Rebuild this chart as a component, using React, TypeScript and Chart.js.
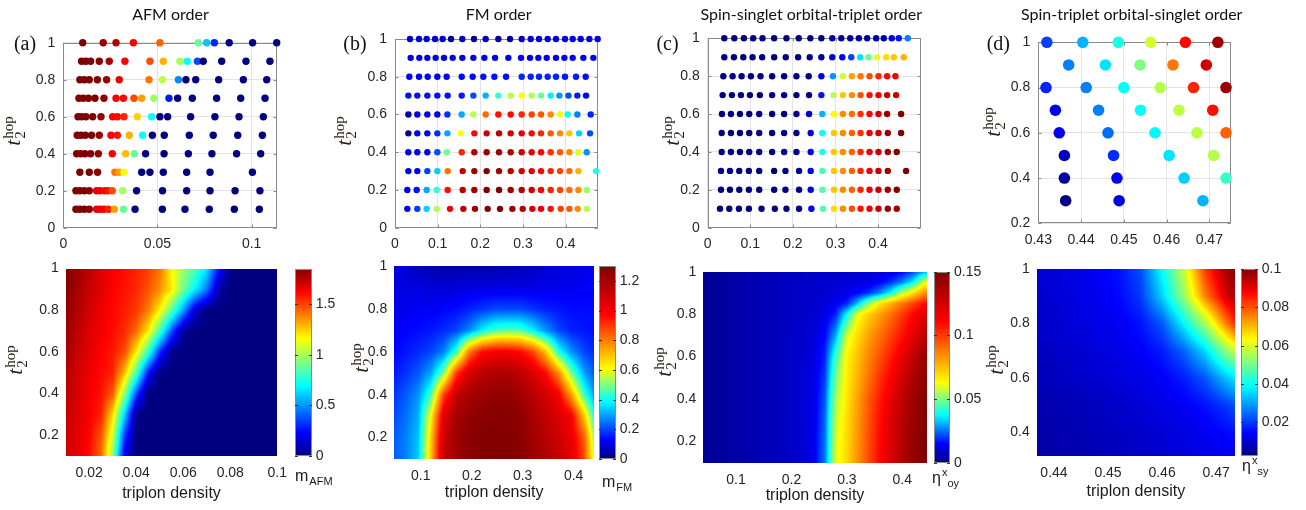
import React, { useEffect, useRef } from 'react';
import { Chart, registerables } from 'chart.js';
Chart.register(...registerables);

const W = 1306;
const H = 510;
const SANS = '"Liberation Sans", Arial, Helvetica, sans-serif';
const SERIF = '"Liberation Serif", "Times New Roman", serif';
const TITLE_FONT = 'Lato, "Open Sans", sans-serif';
const TICK_COLOR = '#262626';
const FRAME_COLOR = '#8a8a8a';
const GRID_COLOR = '#e4e4e4';
const TLABEL_COLOR = '#2a2016';

// ================= DATA =================
// ---- top row: scatter points, colour value normalised to [0,1] ----
const A_T2 = [1.0, 0.9, 0.8, 0.7, 0.6, 0.5, 0.4, 0.3, 0.2, 0.1];
const A_X = [
  [0.0103, 0.0212, 0.028, 0.0372, 0.0513, 0.0717, 0.0761, 0.0802, 0.0881, 0.1005, 0.1133],
  [0.0097, 0.012, 0.0145, 0.0191, 0.0244, 0.0327, 0.046, 0.0531, 0.0619, 0.0658, 0.0712, 0.0743, 0.0841, 0.097, 0.1097],
  [0.0088, 0.0112, 0.0138, 0.0181, 0.023, 0.0297, 0.0455, 0.0526, 0.0611, 0.0651, 0.0703, 0.0825, 0.0956, 0.108],
  [0.0083, 0.0106, 0.0133, 0.0168, 0.0216, 0.028, 0.0319, 0.0375, 0.0416, 0.0481, 0.0561, 0.0607, 0.0685, 0.0814, 0.0942, 0.1071],
  [0.0078, 0.0097, 0.012, 0.0156, 0.02, 0.0262, 0.0287, 0.0322, 0.0393, 0.0469, 0.0513, 0.0554, 0.0676, 0.0805, 0.0933, 0.1062],
  [0.0074, 0.0094, 0.0117, 0.015, 0.0191, 0.0253, 0.0287, 0.035, 0.0421, 0.0473, 0.0536, 0.0669, 0.0796, 0.0926, 0.1057],
  [0.0071, 0.0092, 0.0115, 0.0145, 0.0186, 0.026, 0.0331, 0.0377, 0.0437, 0.0535, 0.0664, 0.0789, 0.092, 0.1048],
  [0.0088, 0.0138, 0.0182, 0.0274, 0.0296, 0.0322, 0.0416, 0.046, 0.0531, 0.0655, 0.0779, 0.1004],
  [0.0067, 0.0088, 0.0112, 0.0138, 0.0177, 0.0195, 0.0221, 0.0239, 0.026, 0.0315, 0.0389, 0.0527, 0.0655, 0.0779, 0.0912, 0.1044],
  [0.0067, 0.0088, 0.0112, 0.0138, 0.0177, 0.0195, 0.0216, 0.0239, 0.0271, 0.0319, 0.0381, 0.0526, 0.0646, 0.0775, 0.0908, 0.1041],
];
const A_V = [
  [1, 0.98, 0.95, 0.88, 0.78, 0.47, 0.32, 0.16, 0, 0, 0],
  [1, 1, 1, 0.99, 0.96, 0.88, 0.8, 0.7, 0.54, 0.38, 0.2, 0, 0, 0, 0],
  [1, 1, 1, 0.99, 0.97, 0.9, 0.76, 0.56, 0.26, 0, 0, 0, 0, 0],
  [1, 1, 1, 1, 0.98, 0.88, 0.87, 0.8, 0.72, 0.53, 0.15, 0, 0, 0, 0, 0],
  [1, 1, 1, 1, 0.98, 0.88, 0.87, 0.84, 0.67, 0.38, 0, 0, 0, 0, 0, 0],
  [1, 1, 1, 1, 0.98, 0.88, 0.86, 0.7, 0.38, 0, 0, 0, 0, 0, 0],
  [1, 1, 1, 1, 0.98, 0.88, 0.69, 0.47, 0, 0, 0, 0, 0, 0],
  [1, 1, 0.99, 0.76, 0.72, 0.61, 0, 0, 0, 0, 0, 0],
  [1, 1, 1, 0.99, 0.9, 0.89, 0.88, 0.86, 0.8, 0.54, 0, 0, 0, 0, 0, 0],
  [1, 1, 1, 0.99, 0.9, 0.89, 0.88, 0.85, 0.72, 0.47, 0, 0, 0, 0, 0, 0],
];

const B_T2 = [1.0, 0.9, 0.8, 0.7, 0.6, 0.5, 0.4, 0.3, 0.2, 0.1];
const B_X = [
  [0.0352, 0.0563, 0.0742, 0.0938, 0.1117, 0.1313, 0.1578, 0.1852, 0.2125, 0.2422, 0.2695, 0.2969, 0.318, 0.3375, 0.3578, 0.3773, 0.3984, 0.4164, 0.4352, 0.4555, 0.475],
  [0.0367, 0.057, 0.0758, 0.0953, 0.1148, 0.1352, 0.1578, 0.1836, 0.2094, 0.2344, 0.2656, 0.2953, 0.3164, 0.3359, 0.3555, 0.3773, 0.3969, 0.4164, 0.4414, 0.4648],
  [0.0336, 0.0563, 0.0766, 0.0992, 0.1211, 0.1563, 0.182, 0.207, 0.2328, 0.2602, 0.2969, 0.318, 0.3375, 0.3578, 0.3773, 0.3984, 0.4242, 0.4469],
  [0.0313, 0.0523, 0.0758, 0.0992, 0.1234, 0.1563, 0.1836, 0.2125, 0.2422, 0.2711, 0.2969, 0.3203, 0.3422, 0.3648, 0.3852, 0.4063, 0.4273, 0.4477],
  [0.0313, 0.0523, 0.0758, 0.0992, 0.1227, 0.1563, 0.1836, 0.2125, 0.2422, 0.2711, 0.2969, 0.3203, 0.3422, 0.3648, 0.3867, 0.4047, 0.4273, 0.4586],
  [0.0313, 0.0523, 0.0758, 0.0992, 0.1227, 0.1539, 0.1859, 0.2148, 0.2438, 0.2711, 0.2969, 0.3203, 0.3422, 0.3648, 0.3867, 0.4086, 0.4313, 0.457],
  [0.0313, 0.0523, 0.0758, 0.0992, 0.1211, 0.1563, 0.1859, 0.2148, 0.2438, 0.2711, 0.2969, 0.3203, 0.3422, 0.3648, 0.3867, 0.4086, 0.4297, 0.4492],
  [0.0313, 0.0523, 0.0758, 0.0992, 0.1234, 0.1586, 0.1859, 0.2148, 0.2438, 0.2711, 0.2969, 0.3203, 0.3422, 0.3648, 0.3867, 0.4086, 0.4297, 0.4711],
  [0.0289, 0.0508, 0.0742, 0.0977, 0.1234, 0.1586, 0.1859, 0.2148, 0.2438, 0.2711, 0.2969, 0.3203, 0.3422, 0.3648, 0.3867, 0.4086, 0.4297, 0.4492],
  [0.0289, 0.0523, 0.0742, 0.0977, 0.1289, 0.1602, 0.1875, 0.2172, 0.2461, 0.275, 0.2992, 0.3219, 0.3422, 0.3648, 0.3883, 0.4086, 0.4281, 0.4492],
];
const B_V = [
  [0.09, 0.09, 0.09, 0.09, 0.08, 0.03, 0.07, 0.03, 0.06, 0.03, 0.03, 0.08, 0.09, 0.09, 0.09, 0.1, 0.1, 0.1, 0.1, 0.1, 0.1],
  [0.1, 0.1, 0.1, 0.1, 0.1, 0.1, 0.1, 0.1, 0.1, 0.1, 0.11, 0.11, 0.11, 0.11, 0.11, 0.11, 0.11, 0.11, 0.11, 0.11],
  [0.12, 0.12, 0.12, 0.12, 0.13, 0.13, 0.13, 0.14, 0.14, 0.14, 0.16, 0.16, 0.16, 0.16, 0.16, 0.15, 0.15, 0.14],
  [0.14, 0.14, 0.14, 0.14, 0.14, 0.15, 0.2, 0.3, 0.43, 0.55, 0.62, 0.55, 0.47, 0.36, 0.27, 0.2, 0.15, 0.13],
  [0.04, 0.1, 0.1, 0.1, 0.17, 0.29, 0.55, 0.77, 0.86, 0.87, 0.84, 0.81, 0.79, 0.74, 0.63, 0.38, 0.25, 0.16],
  [0.03, 0.1, 0.1, 0.17, 0.29, 0.625, 0.87, 0.92, 0.94, 0.92, 0.9, 0.87, 0.84, 0.79, 0.74, 0.68, 0.33, 0.2],
  [0.1, 0.1, 0.1, 0.2, 0.48, 0.84, 0.95, 0.97, 0.97, 0.95, 0.92, 0.9, 0.87, 0.83, 0.79, 0.74, 0.6, 0.27],
  [0.1, 0.12, 0.19, 0.33, 0.76, 0.94, 0.97, 1, 0.97, 0.95, 0.92, 0.9, 0.87, 0.84, 0.81, 0.77, 0.7, 0.4],
  [0.1, 0.14, 0.29, 0.42, 0.86, 0.95, 0.97, 1, 1, 0.97, 0.95, 0.92, 0.88, 0.84, 0.81, 0.77, 0.74, 0.52],
  [0.12, 0.18, 0.33, 0.55, 0.89, 0.95, 0.97, 1, 1, 0.97, 0.95, 0.92, 0.9, 0.86, 0.81, 0.79, 0.74, 0.55],
];

const C_T2 = [1.0, 0.9, 0.8, 0.7, 0.6, 0.5, 0.4, 0.3, 0.2, 0.1];
const C_X = [
  [0.039, 0.0624, 0.085, 0.1069, 0.1287, 0.156, 0.1849, 0.2137, 0.241, 0.2668, 0.2925, 0.3136, 0.3346, 0.3549, 0.3744, 0.3955, 0.4134, 0.4321, 0.4485, 0.4696],
  [0.039, 0.0616, 0.0835, 0.1053, 0.1279, 0.156, 0.1833, 0.2122, 0.2395, 0.2668, 0.2925, 0.3159, 0.337, 0.358, 0.3775, 0.3978, 0.4189, 0.4368, 0.4602],
  [0.0367, 0.0585, 0.0796, 0.1014, 0.124, 0.1513, 0.1794, 0.2083, 0.2371, 0.2668, 0.2941, 0.3175, 0.3385, 0.3588, 0.3799, 0.4009, 0.4212, 0.4407],
  [0.0351, 0.0569, 0.078, 0.0991, 0.1225, 0.1513, 0.1794, 0.2083, 0.2379, 0.2668, 0.2956, 0.3175, 0.3385, 0.3588, 0.3799, 0.4009, 0.4212, 0.4423],
  [0.0335, 0.0546, 0.0757, 0.0975, 0.1209, 0.1513, 0.1794, 0.2083, 0.2379, 0.2691, 0.2964, 0.3175, 0.3385, 0.3588, 0.3799, 0.4009, 0.4212, 0.454],
  [0.0328, 0.0546, 0.0757, 0.0975, 0.1209, 0.1513, 0.1794, 0.2083, 0.2418, 0.2691, 0.2964, 0.3175, 0.3385, 0.3588, 0.3799, 0.4009, 0.4228, 0.454],
  [0.0328, 0.0546, 0.0757, 0.0975, 0.1209, 0.1513, 0.1794, 0.2083, 0.2418, 0.2691, 0.2964, 0.3175, 0.3385, 0.3588, 0.3799, 0.4009, 0.4228, 0.4438],
  [0.0312, 0.0523, 0.0741, 0.0967, 0.1209, 0.156, 0.1825, 0.2145, 0.2418, 0.2691, 0.2964, 0.3175, 0.3385, 0.3588, 0.3799, 0.4009, 0.4228, 0.4657],
  [0.0312, 0.0523, 0.0741, 0.0967, 0.1209, 0.156, 0.1825, 0.2145, 0.2418, 0.2691, 0.2964, 0.3175, 0.3385, 0.3588, 0.3799, 0.4009, 0.4228, 0.4438],
  [0.0289, 0.0507, 0.0733, 0.0967, 0.1264, 0.1576, 0.1849, 0.2145, 0.2434, 0.2707, 0.2964, 0.3175, 0.3385, 0.3588, 0.3799, 0.4009, 0.4228, 0.4438],
];
const C_V = [
  [0, 0, 0, 0, 0, 0, 0, 0, 0, 0, 0.03, 0.03, 0.03, 0.03, 0.03, 0.04, 0.04, 0.1, 0.14, 0.25],
  [0, 0, 0, 0, 0, 0, 0, 0, 0, 0, 0.07, 0.12, 0.19, 0.35, 0.48, 0.6, 0.66, 0.68, 0.7],
  [0, 0, 0, 0, 0, 0, 0, 0, 0, 0.1, 0.27, 0.58, 0.72, 0.76, 0.8, 0.84, 0.87, 0.88],
  [0, 0, 0, 0, 0, 0, 0, 0, 0, 0.14, 0.55, 0.68, 0.74, 0.8, 0.86, 0.89, 0.92, 0.93],
  [0, 0, 0, 0, 0, 0, 0, 0, 0.08, 0.3, 0.63, 0.74, 0.77, 0.83, 0.87, 0.92, 0.97, 1],
  [0, 0, 0, 0, 0, 0, 0, 0, 0.1, 0.375, 0.68, 0.74, 0.78, 0.83, 0.89, 0.93, 0.97, 1],
  [0, 0, 0, 0, 0, 0, 0, 0, 0.11, 0.4, 0.68, 0.74, 0.78, 0.84, 0.89, 0.93, 0.97, 1],
  [0, 0, 0, 0, 0, 0, 0, 0, 0.11, 0.45, 0.68, 0.74, 0.78, 0.84, 0.89, 0.93, 0.97, 1],
  [0, 0, 0, 0, 0, 0, 0, 0, 0.11, 0.45, 0.68, 0.74, 0.78, 0.84, 0.89, 0.93, 0.97, 1],
  [0, 0, 0, 0, 0, 0, 0, 0, 0.12, 0.45, 0.66, 0.74, 0.8, 0.86, 0.89, 0.93, 0.97, 0.97],
];

const D_T2 = [1.0, 0.9, 0.8, 0.7, 0.6, 0.5, 0.4, 0.3];
const D_X = [
  [0.432, 0.4404, 0.4487, 0.4563, 0.4644, 0.472],
  [0.4371, 0.4457, 0.4538, 0.4615, 0.4693],
  [0.4318, 0.4412, 0.45, 0.4585, 0.4663, 0.4739],
  [0.434, 0.4441, 0.4539, 0.4629, 0.4708],
  [0.4349, 0.4463, 0.4573, 0.4671, 0.4739],
  [0.4361, 0.4476, 0.4606, 0.471],
  [0.4361, 0.4484, 0.4641, 0.4739],
  [0.4364, 0.4489, 0.4685],
];
const D_V = [
  [0.19, 0.3, 0.4, 0.58, 0.87, 0.97],
  [0.25, 0.35, 0.5, 0.76, 0.92],
  [0.16, 0.25, 0.38, 0.55, 0.84, 0.97],
  [0.11, 0.25, 0.38, 0.56, 0.86],
  [0.11, 0.23, 0.37, 0.56, 0.78],
  [0.06, 0.17, 0.35, 0.55],
  [0.03, 0.11, 0.33, 0.43],
  [0, 0.1, 0.3],
];

// ---- bottom row: heat-map grids (rows ascending in t2) ----
const HA_X = [0.01, 0.015, 0.02, 0.025, 0.03, 0.035, 0.04, 0.045, 0.05, 0.055, 0.06, 0.065, 0.07, 0.075, 0.08, 0.085, 0.09, 0.095, 0.1];
const HA_Y = [0.1, 0.2, 0.3, 0.4, 0.5, 0.6, 0.7, 0.8, 0.9, 1.0];
const HA_Z = [
  [1.7, 1.66, 1.6, 1.43, 0.95, 0.2, 0, 0, 0, 0, 0, 0, 0, 0, 0, 0, 0, 0, 0],
  [1.72, 1.67, 1.62, 1.47, 1.08, 0.35, 0, 0, 0, 0, 0, 0, 0, 0, 0, 0, 0, 0, 0],
  [1.73, 1.68, 1.63, 1.56, 1.22, 0.62, 0.02, 0, 0, 0, 0, 0, 0, 0, 0, 0, 0, 0, 0],
  [1.74, 1.69, 1.64, 1.59, 1.46, 0.97, 0.37, 0, 0, 0, 0, 0, 0, 0, 0, 0, 0, 0, 0],
  [1.76, 1.7, 1.65, 1.61, 1.56, 1.28, 0.84, 0.27, 0, 0, 0, 0, 0, 0, 0, 0, 0, 0, 0],
  [1.78, 1.72, 1.67, 1.62, 1.58, 1.49, 1.19, 0.8, 0.32, 0.02, 0, 0, 0, 0, 0, 0, 0, 0, 0],
  [1.8, 1.74, 1.68, 1.64, 1.6, 1.55, 1.43, 1.2, 0.82, 0.38, 0.04, 0, 0, 0, 0, 0, 0, 0, 0],
  [1.82, 1.76, 1.7, 1.65, 1.61, 1.57, 1.52, 1.4, 1.18, 0.86, 0.52, 0.14, 0, 0, 0, 0, 0, 0, 0],
  [1.84, 1.78, 1.72, 1.67, 1.62, 1.59, 1.55, 1.47, 1.36, 1.2, 0.9, 0.68, 0.45, 0.08, 0, 0, 0, 0, 0],
  [1.85, 1.8, 1.74, 1.68, 1.63, 1.6, 1.56, 1.51, 1.41, 1.16, 0.97, 0.84, 0.65, 0.27, 0.02, 0, 0, 0, 0],
];

const HB_X = [0.045, 0.07, 0.095, 0.12, 0.145, 0.17, 0.195, 0.22, 0.245, 0.27, 0.295, 0.32, 0.345, 0.37, 0.395, 0.42, 0.445];
const HB_Y = [0.1, 0.2, 0.3, 0.4, 0.5, 0.6, 0.7, 0.8, 0.9, 1.0];
const HB_Z = [
  [0.22, 0.26, 0.34, 0.7, 1.12, 1.22, 1.27, 1.29, 1.3, 1.3, 1.28, 1.24, 1.18, 1.12, 1.05, 0.88, 0.5],
  [0.22, 0.26, 0.33, 0.68, 1.1, 1.22, 1.27, 1.29, 1.3, 1.29, 1.27, 1.22, 1.16, 1.1, 1.03, 0.85, 0.45],
  [0.2, 0.24, 0.31, 0.62, 1.05, 1.2, 1.25, 1.27, 1.28, 1.28, 1.26, 1.2, 1.13, 1.07, 1.0, 0.7, 0.35],
  [0.18, 0.22, 0.28, 0.45, 0.88, 1.12, 1.2, 1.23, 1.25, 1.25, 1.22, 1.16, 1.09, 1.0, 0.75, 0.45, 0.25],
  [0.15, 0.18, 0.22, 0.3, 0.5, 0.9, 1.08, 1.15, 1.18, 1.18, 1.15, 1.07, 0.97, 0.78, 0.5, 0.3, 0.2],
  [0.13, 0.15, 0.17, 0.2, 0.26, 0.44, 0.8, 0.96, 1.0, 1.0, 0.97, 0.88, 0.7, 0.42, 0.28, 0.2, 0.16],
  [0.12, 0.13, 0.14, 0.15, 0.17, 0.2, 0.27, 0.38, 0.45, 0.47, 0.46, 0.38, 0.28, 0.2, 0.16, 0.15, 0.14],
  [0.11, 0.11, 0.12, 0.12, 0.13, 0.14, 0.16, 0.18, 0.2, 0.2, 0.2, 0.18, 0.16, 0.15, 0.14, 0.14, 0.14],
  [0.1, 0.1, 0.1, 0.09, 0.09, 0.09, 0.1, 0.1, 0.1, 0.1, 0.1, 0.1, 0.11, 0.11, 0.11, 0.12, 0.12],
  [0.1, 0.08, 0.06, 0.05, 0.04, 0.04, 0.04, 0.04, 0.04, 0.05, 0.06, 0.07, 0.08, 0.09, 0.1, 0.11, 0.12],
];

const HC_X = [0.04, 0.06, 0.08, 0.1, 0.12, 0.14, 0.16, 0.18, 0.2, 0.22, 0.24, 0.26, 0.28, 0.3, 0.32, 0.34, 0.36, 0.38, 0.4, 0.42, 0.44];
const HC_Y = [0.1, 0.2, 0.3, 0.4, 0.5, 0.6, 0.7, 0.8, 0.85, 0.9, 0.95, 1.0];
const HC_Z = [
  [0.003, 0.003, 0.0038, 0.0045, 0.0053, 0.006, 0.0068, 0.0075, 0.0083, 0.0098, 0.0128, 0.0255, 0.06, 0.0705, 0.084, 0.0975, 0.111, 0.123, 0.135, 0.144, 0.15],
  [0.003, 0.003, 0.0038, 0.0045, 0.0053, 0.006, 0.0068, 0.0075, 0.0083, 0.0098, 0.0125, 0.025, 0.059, 0.07, 0.0835, 0.097, 0.11, 0.122, 0.134, 0.143, 0.15],
  [0.003, 0.003, 0.0038, 0.0045, 0.0053, 0.006, 0.0068, 0.0075, 0.0083, 0.0098, 0.0123, 0.024, 0.057, 0.069, 0.0825, 0.096, 0.109, 0.121, 0.133, 0.142, 0.149],
  [0.003, 0.003, 0.0038, 0.0045, 0.0053, 0.006, 0.0068, 0.0075, 0.0083, 0.0098, 0.012, 0.0225, 0.054, 0.0675, 0.081, 0.0945, 0.1065, 0.1185, 0.1305, 0.141, 0.1485],
  [0.003, 0.003, 0.0038, 0.0045, 0.0053, 0.006, 0.0068, 0.0075, 0.0083, 0.0098, 0.0117, 0.0203, 0.0495, 0.066, 0.078, 0.09, 0.102, 0.1125, 0.1245, 0.1365, 0.1455],
  [0.003, 0.003, 0.0038, 0.0045, 0.0053, 0.006, 0.0068, 0.0075, 0.0083, 0.0095, 0.0113, 0.018, 0.0435, 0.0645, 0.075, 0.0863, 0.096, 0.1065, 0.117, 0.1305, 0.1425],
  [0.003, 0.003, 0.0038, 0.0045, 0.0053, 0.006, 0.0068, 0.0075, 0.0083, 0.009, 0.0105, 0.015, 0.03, 0.0585, 0.0705, 0.081, 0.09, 0.099, 0.108, 0.1185, 0.1305],
  [0.003, 0.003, 0.0038, 0.0045, 0.0053, 0.006, 0.0068, 0.0075, 0.008, 0.0084, 0.0098, 0.012, 0.018, 0.0375, 0.0615, 0.072, 0.081, 0.09, 0.1005, 0.111, 0.12],
  [0.003, 0.003, 0.0038, 0.0045, 0.0053, 0.006, 0.0068, 0.0075, 0.008, 0.0084, 0.009, 0.0105, 0.0135, 0.018, 0.033, 0.0525, 0.0675, 0.078, 0.0885, 0.099, 0.1095],
  [0.003, 0.003, 0.0038, 0.0045, 0.0053, 0.006, 0.0068, 0.0075, 0.008, 0.0084, 0.009, 0.0098, 0.0105, 0.012, 0.015, 0.0195, 0.027, 0.039, 0.0555, 0.069, 0.084],
  [0.003, 0.003, 0.0038, 0.0045, 0.0053, 0.006, 0.0068, 0.0075, 0.008, 0.0084, 0.009, 0.0095, 0.0099, 0.0105, 0.011, 0.012, 0.015, 0.0195, 0.027, 0.0375, 0.06],
  [0.003, 0.003, 0.0038, 0.0045, 0.0053, 0.006, 0.0068, 0.0075, 0.0078, 0.0081, 0.0084, 0.0087, 0.009, 0.0093, 0.0096, 0.0099, 0.0105, 0.012, 0.015, 0.021, 0.03],
];

const HD_X = [0.436, 0.44, 0.444, 0.448, 0.452, 0.456, 0.46, 0.464, 0.468, 0.472, 0.474];
const HD_Y = [0.3, 0.4, 0.5, 0.6, 0.7, 0.8, 0.9, 1.0];
const HD_Z = [
  [0.0059, 0.0064, 0.0069, 0.0074, 0.0084, 0.0093, 0.0103, 0.0113, 0.0123, 0.0132, 0.0137],
  [0.0064, 0.0069, 0.0074, 0.0079, 0.0088, 0.0098, 0.0108, 0.0118, 0.0132, 0.0152, 0.0162],
  [0.0069, 0.0074, 0.0079, 0.0088, 0.0098, 0.0108, 0.0123, 0.0137, 0.0162, 0.0201, 0.023],
  [0.0074, 0.0084, 0.0093, 0.0103, 0.0113, 0.0123, 0.0142, 0.0171, 0.023, 0.0337, 0.0376],
  [0.0084, 0.0093, 0.0103, 0.0113, 0.0123, 0.0142, 0.0171, 0.024, 0.0357, 0.0532, 0.0591],
  [0.0093, 0.0103, 0.0113, 0.0123, 0.0137, 0.0162, 0.023, 0.0386, 0.0552, 0.0766, 0.0864],
  [0.0098, 0.0108, 0.0118, 0.0132, 0.0152, 0.0201, 0.0347, 0.0532, 0.0756, 0.0922, 0.0961],
  [0.0103, 0.0113, 0.0123, 0.0137, 0.0162, 0.022, 0.0396, 0.0581, 0.0825, 0.0971, 0.1],
];

// ---- tick values ----
const TOP_Y_TICKS = [0, 0.2, 0.4, 0.6, 0.8, 1];
const A_XTICKS = [0, 0.05, 0.1];
const BC_XTICKS = [0, 0.1, 0.2, 0.3, 0.4];
const D_XTICKS = [0.43, 0.44, 0.45, 0.46, 0.47];
const D_YTICKS = [0.2, 0.4, 0.6, 0.8, 1];
const HA_XTICKS = [0.02, 0.04, 0.06, 0.08, 0.1];
const HBC_XTICKS = [0.1, 0.2, 0.3, 0.4];
const H_YTICKS = [0.2, 0.4, 0.6, 0.8, 1];
const HD_XTICKS = [0.44, 0.45, 0.46, 0.47];
const HD_YTICKS = [0.4, 0.6, 0.8, 1];
const CA_TICKS = [0, 0.5, 1, 1.5];
const CB_TICKS = [0, 0.2, 0.4, 0.6, 0.8, 1, 1.2];
const CC_TICKS = [0, 0.05, 0.1, 0.15];
const CD_TICKS = [0.02, 0.04, 0.06, 0.08, 0.1];

// ================= colour maps =================
type Stop = [number, number, number, number];
const JET: Stop[] = [[0, 0, 0, 128], [0.125, 0, 0, 255], [0.375, 0, 255, 255], [0.625, 255, 255, 0], [0.875, 255, 0, 0], [1, 128, 0, 0]];
const JET_B: Stop[] = [[0, 0, 0, 128], [0.1, 0, 0, 255], [0.3, 0, 255, 255], [0.47, 255, 255, 0], [0.75, 255, 0, 0], [1, 128, 0, 0]];
const JET_C: Stop[] = [[0, 0, 0, 128], [0.1, 0, 0, 255], [0.25, 0, 255, 255], [0.42, 255, 255, 0], [0.74, 255, 0, 0], [1, 128, 0, 0]];

function cmap(stops: Stop[], t: number): [number, number, number] {
  if (!(t > 0)) t = 0;
  if (t > 1) t = 1;
  for (let i = 1; i < stops.length; i++) {
    if (t <= stops[i][0]) {
      const a = stops[i - 1], b = stops[i];
      const f = (t - a[0]) / (b[0] - a[0]);
      return [a[1] + (b[1] - a[1]) * f, a[2] + (b[2] - a[2]) * f, a[3] + (b[3] - a[3]) * f];
    }
  }
  const l = stops[stops.length - 1];
  return [l[1], l[2], l[3]];
}
function jetColor(v: number) {
  const [r, g, b] = cmap(JET, v);
  return `rgb(${Math.round(r)},${Math.round(g)},${Math.round(b)})`;
}

type Area = { l: number; t: number; r: number; b: number };

function locate(arr: number[], v: number): [number, number] {
  if (v <= arr[0]) return [0, 0];
  if (v >= arr[arr.length - 1]) return [arr.length - 2, 1];
  let k = 0;
  while (arr[k + 1] < v) k++;
  return [k, (v - arr[k]) / (arr[k + 1] - arr[k])];
}

function buildPoints(t2: number[], xs: number[][], vs: number[][]) {
  const pts: { x: number; y: number; v: number }[] = [];
  t2.forEach((y, i) => xs[i].forEach((x, j) => pts.push({ x, y, v: vs[i][j] })));
  return pts;
}

// ================= text helpers =================
function drawT2hop(ctx: CanvasRenderingContext2D, bx: number, cy: number) {
  ctx.save();
  ctx.translate(bx, cy);
  ctx.rotate(-Math.PI / 2);
  ctx.fillStyle = TLABEL_COLOR;
  ctx.textAlign = 'left';
  ctx.textBaseline = 'alphabetic';
  ctx.font = `italic 22px ${SERIF}`;
  const tw = ctx.measureText('t').width;
  ctx.font = `15px ${SERIF}`;
  const hw = ctx.measureText('hop').width;
  const x0 = -(tw + 1 + hw) / 2;
  ctx.font = `italic 22px ${SERIF}`;
  ctx.fillText('t', x0, 0);
  ctx.font = `15px ${SERIF}`;
  ctx.fillText('2', x0 + tw + 1, 5);
  ctx.fillText('hop', x0 + tw + 1, -7);
  ctx.restore();
}
function drawText(ctx: CanvasRenderingContext2D, s: string, x: number, y: number, font: string, color: string, align: CanvasTextAlign = 'center') {
  ctx.save();
  ctx.font = font;
  ctx.fillStyle = color;
  ctx.textAlign = align;
  ctx.textBaseline = 'middle';
  ctx.fillText(s, x, y);
  ctx.restore();
}
function drawSubLabel(ctx: CanvasRenderingContext2D, main: string, sup: string, sub: string, x: number, base: number) {
  ctx.save();
  ctx.fillStyle = '#1a1a1a';
  ctx.textAlign = 'left';
  ctx.textBaseline = 'alphabetic';
  ctx.font = `16px ${SANS}`;
  ctx.fillText(main, x, base);
  let cx = x + ctx.measureText(main).width + 1;
  ctx.font = `11px ${SANS}`;
  if (sup) {
    ctx.fillText(sup, cx, base - 7);
    cx += ctx.measureText(sup).width;
  }
  ctx.fillText(sub, cx, base + 4);
  ctx.restore();
}

// ================= chart builders =================
function axis(pos: string, min: number, max: number, ticks: number[], size: number, pad: number, grid: boolean, title?: string) {
  return {
    type: 'linear',
    position: pos,
    min,
    max,
    afterBuildTicks: (s: any) => { s.ticks = ticks.map((v) => ({ value: v })); },
    afterFit: (s: any) => { if (pos === 'left' || pos === 'right') s.width = size; else s.height = size; },
    ticks: { color: TICK_COLOR, font: { family: SANS, size: 14 }, padding: pad, autoSkip: false, maxRotation: 0, callback: (v: number) => String(v) },
    grid: { display: grid, color: GRID_COLOR, drawTicks: false, lineWidth: 1 },
    border: { display: false },
    title: title
      ? { display: true, text: title, color: '#1a1a1a', font: { family: SANS, size: 16 }, padding: 0 }
      : { display: false },
  };
}

function framePlugin(withTicks: boolean) {
  return {
    id: 'frame',
    beforeDatasetsDraw(chart: any) {
      const { ctx, chartArea: a, scales } = chart;
      ctx.save();
      ctx.strokeStyle = FRAME_COLOR;
      ctx.lineWidth = 1;
      const L = Math.round(a.left) + 0.5, T = Math.round(a.top) + 0.5, R = Math.round(a.right) - 0.5, B = Math.round(a.bottom) - 0.5;
      ctx.strokeRect(L, T, R - L, B - T);
      if (withTicks) {
        ctx.beginPath();
        scales.x.ticks.forEach((t: any) => {
          const p = Math.round(scales.x.getPixelForValue(t.value)) + 0.5;
          ctx.moveTo(p, B); ctx.lineTo(p, B - 3);
          ctx.moveTo(p, T); ctx.lineTo(p, T + 3);
        });
        scales.y.ticks.forEach((t: any) => {
          const p = Math.round(scales.y.getPixelForValue(t.value)) + 0.5;
          ctx.moveTo(L, p); ctx.lineTo(L + 3, p);
          ctx.moveTo(R, p); ctx.lineTo(R - 3, p);
        });
        ctx.stroke();
      }
      ctx.restore();
    },
  };
}

function textPlugin(fn: (ctx: CanvasRenderingContext2D) => void) {
  return { id: 'texts', afterDraw(chart: any) { fn(chart.ctx); } };
}

function baseOptions(padding: any, scales: any) {
  return {
    responsive: false,
    animation: false,
    events: [],
    layout: { padding },
    plugins: { legend: { display: false }, tooltip: { enabled: false }, title: { display: false } },
    scales,
  };
}

function scatterConfig(p: {
  area: Area; xr: [number, number]; yr: [number, number]; xt: number[]; yt: number[];
  pts: { x: number; y: number; v: number }[]; radius: number;
  title: string; titleX: number; letter: string; letterX: number; labX: number; labY: number;
}) {
  const YW = 60, XH = 30;
  const { area } = p;
  return {
    type: 'scatter',
    data: {
      datasets: [{
        data: p.pts,
        backgroundColor: p.pts.map((d) => jetColor(d.v)),
        borderWidth: 0,
        pointRadius: p.radius,
        pointHoverRadius: p.radius,
        clip: false,
      }],
    },
    options: baseOptions(
      { left: area.l - YW, top: area.t, right: W - area.r, bottom: H - area.b - XH },
      {
        x: axis('bottom', p.xr[0], p.xr[1], p.xt, XH, 8, true),
        y: axis('left', p.yr[0], p.yr[1], p.yt, YW, 8, true),
      },
    ),
    plugins: [
      framePlugin(true),
      textPlugin((ctx) => {
        drawText(ctx, p.title, p.titleX, 15, `16px ${TITLE_FONT}`, '#111');
        drawText(ctx, p.letter, p.letterX, 45, `20px ${SERIF}`, '#111');
        drawT2hop(ctx, p.labX, p.labY);
      }),
    ],
  };
}

function heatPlugin(xs: number[], ys: number[], z: number[][], lo: number, hi: number, stops: Stop[]) {
  return {
    id: 'heat',
    beforeDatasetsDraw(chart: any) {
      const { ctx, chartArea: a, scales } = chart;
      const sx = scales.x, sy = scales.y;
      const x0 = Math.round(a.left), y0 = Math.round(a.top);
      const w = Math.round(a.right) - x0, h = Math.round(a.bottom) - y0;
      const off = document.createElement('canvas');
      off.width = w; off.height = h;
      const oc = off.getContext('2d')!;
      const img = oc.createImageData(w, h);
      const ci: number[] = [], ct: number[] = [];
      for (let i = 0; i < w; i++) {
        const [k, t] = locate(xs, sx.getValueForPixel(x0 + i + 0.5));
        ci.push(k); ct.push(t);
      }
      for (let j = 0; j < h; j++) {
        const [m, u] = locate(ys, sy.getValueForPixel(y0 + j + 0.5));
        const r0 = z[m], r1 = z[m + 1];
        for (let i = 0; i < w; i++) {
          const k = ci[i], t = ct[i];
          const val = (r0[k] * (1 - t) + r0[k + 1] * t) * (1 - u) + (r1[k] * (1 - t) + r1[k + 1] * t) * u;
          const [r, g, b] = cmap(stops, (val - lo) / (hi - lo));
          const q = (j * w + i) * 4;
          img.data[q] = r; img.data[q + 1] = g; img.data[q + 2] = b; img.data[q + 3] = 255;
        }
      }
      oc.putImageData(img, 0, 0);
      ctx.drawImage(off, x0, y0);
    },
  };
}

function heatConfig(p: {
  area: Area; xr: [number, number]; yr: [number, number]; xt: number[]; yt: number[];
  xs: number[]; ys: number[]; z: number[][]; lo: number; hi: number; stops: Stop[];
  xh: number; labX: number; labY: number;
}) {
  const YW = 60;
  const { area } = p;
  return {
    type: 'scatter',
    data: { datasets: [] },
    options: baseOptions(
      { left: area.l - YW, top: area.t, right: W - area.r, bottom: H - area.b - p.xh },
      {
        x: axis('bottom', p.xr[0], p.xr[1], p.xt, p.xh, 9, false, 'triplon density'),
        y: axis('left', p.yr[0], p.yr[1], p.yt, YW, 7, false),
      },
    ),
    plugins: [
      heatPlugin(p.xs, p.ys, p.z, p.lo, p.hi, p.stops),
      textPlugin((ctx) => drawT2hop(ctx, p.labX, p.labY)),
    ],
  };
}

function colorbarConfig(p: {
  area: Area; lo: number; hi: number; ticks: number[]; stops: Stop[];
  label: (ctx: CanvasRenderingContext2D) => void;
}) {
  const YW = 45;
  const { area } = p;
  return {
    type: 'scatter',
    data: { datasets: [] },
    options: baseOptions(
      { left: area.l, top: area.t, right: W - area.r - YW, bottom: H - area.b },
      {
        x: { type: 'linear', display: false, min: 0, max: 1 },
        y: axis('right', p.lo, p.hi, p.ticks, YW, 4, false),
      },
    ),
    plugins: [
      {
        id: 'cbar',
        beforeDatasetsDraw(chart: any) {
          const { ctx, chartArea: a, scales } = chart;
          const sy = scales.y;
          const L = Math.round(a.left), R = Math.round(a.right), T = Math.round(a.top), B = Math.round(a.bottom);
          for (let y = T; y < B; y++) {
            const v = sy.getValueForPixel(y + 0.5);
            const [r, g, b] = cmap(p.stops, (v - p.lo) / (p.hi - p.lo));
            ctx.fillStyle = `rgb(${Math.round(r)},${Math.round(g)},${Math.round(b)})`;
            ctx.fillRect(L, y, R - L, 1);
          }
          ctx.save();
          ctx.strokeStyle = FRAME_COLOR;
          ctx.lineWidth = 1;
          ctx.strokeRect(L + 0.5, T + 0.5, R - L - 1, B - T - 1);
          ctx.strokeStyle = '#333';
          ctx.beginPath();
          sy.ticks.forEach((t: any) => {
            const q = Math.round(sy.getPixelForValue(t.value)) + 0.5;
            ctx.moveTo(L, q); ctx.lineTo(L + 3, q);
            ctx.moveTo(R, q); ctx.lineTo(R - 3, q);
          });
          ctx.stroke();
          ctx.restore();
        },
      },
      textPlugin(p.label),
    ],
  };
}

// ================= configs =================
const CONFIGS: any[] = [
  scatterConfig({
    area: { l: 63.3, t: 42.7, r: 276.7, b: 227.7 }, xr: [0, 0.1133], yr: [0, 1], xt: A_XTICKS, yt: TOP_Y_TICKS,
    pts: buildPoints(A_T2, A_X, A_V), radius: 3.7,
    title: 'AFM order', titleX: 170.5, letter: '(a)', letterX: 25, labX: 20, labY: 131,
  }),
  scatterConfig({
    area: { l: 395, t: 39, r: 597.7, b: 227.7 }, xr: [0, 0.475], yr: [0, 1], xt: BC_XTICKS, yt: TOP_Y_TICKS,
    pts: buildPoints(B_T2, B_X, B_V), radius: 3.2,
    title: 'FM order', titleX: 498.7, letter: '(b)', letterX: 355, labX: 351, labY: 131,
  }),
  scatterConfig({
    area: { l: 707.7, t: 38.3, r: 920.7, b: 227.7 }, xr: [0, 0.5], yr: [0, 1], xt: BC_XTICKS, yt: TOP_Y_TICKS,
    pts: buildPoints(C_T2, C_X, C_V), radius: 3.2,
    title: 'Spin-singlet orbital-triplet order', titleX: 811.3, letter: '(c)', letterX: 667.5, labX: 679, labY: 131,
  }),
  scatterConfig({
    area: { l: 1038.3, t: 42.3, r: 1230.7, b: 223.3 }, xr: [0.43, 0.475], yr: [0.2, 1], xt: D_XTICKS, yt: D_YTICKS,
    pts: buildPoints(D_T2, D_X, D_V), radius: 5.8,
    title: 'Spin-triplet orbital-singlet order', titleX: 1131.7, letter: '(d)', letterX: 998.3, labX: 1000, labY: 122,
  }),
  heatConfig({
    area: { l: 65.7, t: 268.5, r: 277.3, b: 456 }, xr: [0.01, 0.1], yr: [0.1, 1], xt: HA_XTICKS, yt: H_YTICKS,
    xs: HA_X, ys: HA_Y, z: HA_Z, lo: 0, hi: 1.85, stops: JET, xh: 47.6, labX: 22, labY: 360,
  }),
  heatConfig({
    area: { l: 394.3, t: 266, r: 594, b: 459 }, xr: [0.048, 0.44], yr: [0.1, 1], xt: HBC_XTICKS, yt: H_YTICKS,
    xs: HB_X, ys: HB_Y, z: HB_Z, lo: 0, hi: 1.3, stops: JET_B, xh: 43.6, labX: 368, labY: 358,
  }),
  heatConfig({
    area: { l: 703.3, t: 271.7, r: 926.7, b: 462.7 }, xr: [0.041, 0.444], yr: [0.1, 1], xt: HBC_XTICKS, yt: H_YTICKS,
    xs: HC_X, ys: HC_Y, z: HC_Z, lo: 0, hi: 0.15, stops: JET_C, xh: 42.9, labX: 671, labY: 362,
  }),
  heatConfig({
    area: { l: 1036.7, t: 269, r: 1235, b: 456 }, xr: [0.4368, 0.4735], yr: [0.314, 1], xt: HD_XTICKS, yt: HD_YTICKS,
    xs: HD_X, ys: HD_Y, z: HD_Z, lo: 0.0025, hi: 0.1, stops: JET, xh: 45.1, labX: 1003, labY: 360,
  }),
  colorbarConfig({
    area: { l: 295.3, t: 268.5, r: 311.7, b: 456 }, lo: 0, hi: 1.85, ticks: CA_TICKS, stops: JET,
    label: (ctx) => drawSubLabel(ctx, 'm', '', 'AFM', 295, 481),
  }),
  colorbarConfig({
    area: { l: 599.3, t: 266, r: 615.7, b: 459 }, lo: 0, hi: 1.3, ticks: CB_TICKS, stops: JET_B,
    label: (ctx) => drawSubLabel(ctx, 'm', '', 'FM', 602, 487),
  }),
  colorbarConfig({
    area: { l: 934, t: 271.7, r: 950, b: 462.7 }, lo: 0, hi: 0.15, ticks: CC_TICKS, stops: JET_C,
    label: (ctx) => drawSubLabel(ctx, 'η', 'x', 'oy', 932, 483),
  }),
  colorbarConfig({
    area: { l: 1241, t: 269, r: 1257.7, b: 456 }, lo: 0.0025, hi: 0.1, ticks: CD_TICKS, stops: JET,
    label: (ctx) => drawSubLabel(ctx, 'η', 'x', 'sy', 1242, 471),
  }),
];

function ChartCanvas({ config }: { config: any }) {
  const ref = useRef<HTMLCanvasElement>(null);
  useEffect(() => {
    const chart = new Chart(ref.current as HTMLCanvasElement, config);
    return () => chart.destroy();
  }, [config]);
  return (
    <canvas
      ref={ref}
      width={W}
      height={H}
      style={{ position: 'absolute', left: 0, top: 0, width: W, height: H }}
    />
  );
}

export default function App() {
  return (
    <div style={{ position: 'absolute', left: 0, top: 0, width: W, height: H, background: '#ffffff', overflow: 'hidden' }}>
      {CONFIGS.map((c, i) => (
        <ChartCanvas key={i} config={c} />
      ))}
    </div>
  );
}
